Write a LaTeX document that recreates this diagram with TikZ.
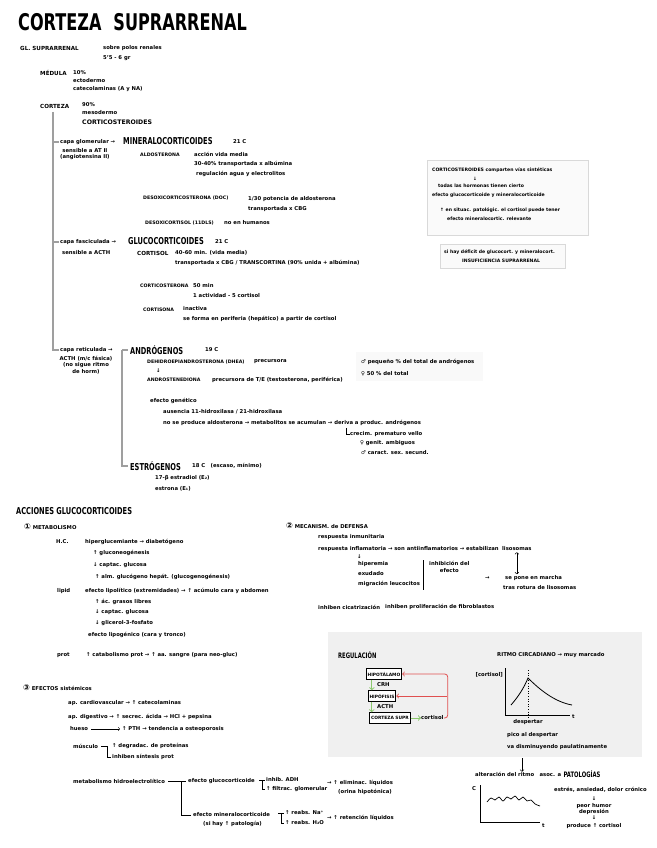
\documentclass[tikz,border=0pt]{standalone}
\usepackage{fontspec}
\setmainfont{DejaVu Sans}
\newfontfamily\handcaps[FakeStretch=0.7]{DejaVu Sans}
\usetikzlibrary{positioning}
\definecolor{hpagreen}{HTML}{8CC86E}
\definecolor{fbred}{HTML}{E05050}
\newcommand{\circnum}[1]{{\fontsize{8}{8}\selectfont #1}}

\begin{document}
\begin{tikzpicture}[x=1pt, y=-1pt,
        txt/.style={anchor=west, inner sep=0pt, align=left, font=\bfseries\fontsize{5.3}{6.3}\selectfont},
        lab/.style={txt, font=\bfseries\fontsize{4.7}{5.6}\selectfont},
        boxtxt/.style={txt, font=\bfseries\fontsize{4.6}{5.5}\selectfont},
        bold/.style={txt, font=\bfseries\fontsize{5.6}{6.4}\selectfont},
        head/.style={anchor=west, inner sep=0pt, font=\handcaps\bfseries\fontsize{9.5}{10}\selectfont},
        spine/.style={line width=1.1pt, gray!75},
        bracket/.style={line width=0.6pt},
        notebox/.style={draw=gray!30, fill=gray!4, line width=0.5pt},
        regbox/.style={draw, line width=1pt, fill=white, inner sep=1.3pt, minimum height=10.5pt, font=\bfseries\fontsize{4.4}{5}\selectfont},
        hpa/.style={->, hpagreen, line width=1pt},
        fb/.style={->, fbred, line width=0.8pt, rounded corners=3pt}
      ]
      \useasboundingbox (0,0) rectangle (656,848);

      % Title
      \node[head, font=\handcaps\bfseries\fontsize{23}{24}\selectfont] (title) at (18,22) {CORTEZA\hspace{12pt}SUPRARRENAL};

      % Gland, medulla and cortex
      \node[bold] (gland) at (20,48) {GL. SUPRARRENAL};
      \node[txt] (glandA) at (103,48) {sobre polos renales};
      \node[txt] (glandB) at (103,58) {5'5 - 6 gr};
      \node[bold] (medula) at (40,73) {MÉDULA};
      \node[txt] (medA) at (73,73) {10\%};
      \node[txt] (medB) at (73,81) {ectodermo};
      \node[txt] (medC) at (73,89) {catecolaminas (A y NA)};
      \node[bold] (corteza) at (40,106) {CORTEZA};
      \node[txt] (cortA) at (82,105) {90\%};
      \node[txt] (cortB) at (82,113) {mesodermo};
      \node[bold, font=\bfseries\fontsize{6.2}{7}\selectfont] (cortC) at (82,122) {CORTICOSTEROIDES};

      % Capa glomerular
      \node[txt] (glom) at (60,142) {capa glomerular →};
      \node[head] (mineral) at (123,141) {MINERALOCORTICOIDES};
      \node[txt] (mineralC) at (233,142) {21 C};
      \node[txt, align=center, anchor=north west] (glomSens) at (60,148) {sensible a AT II\\(angiotensina II)};
      \node[lab] (aldo) at (140,155) {ALDOSTERONA};
      \node[txt] (aldoA) at (194,154) {acción vida media};
      \node[txt] (aldoB) at (194,164) {30-40\% transportada x albúmina};
      \node[txt] (aldoC) at (196,174) {regulación agua y electrolitos};
      \node[lab] (doc) at (143,198) {DESOXICORTICOSTERONA (DOC)};
      \node[txt] (docA) at (248,199) {1/30 potencia de aldosterona};
      \node[txt] (docB) at (248,209) {transportada x CBG};
      \node[lab] (desox) at (145,223) {DESOXICORTISOL (11DLS)};
      \node[txt] (desoxA) at (224,223) {no en humanos};

      % Notes on the right
      \draw[notebox] (427,160) rectangle (588,235);
      \node[boxtxt] (synA) at (432,170) {CORTICOSTEROIDES comparten vías sintéticas};
      \node[boxtxt] (synB) at (473,179) {↓};
      \node[boxtxt] (synC) at (438,186) {todas las hormonas tienen cierto};
      \node[boxtxt] (synD) at (432,195) {efecto glucocorticoide y mineralocorticoide};
      \node[boxtxt] (synE) at (440,210) {↑ en situac. patológic. el cortisol puede tener};
      \node[boxtxt] (synF) at (447,219) {efecto mineralocortic. relevante};
      \draw[notebox] (440,244) rectangle (565,268);
      \node[boxtxt] (defic) at (444,252) {si hay déficit de glucocort. y mineralocort.};
      \node[boxtxt] (insuf) at (462,261) {INSUFICIENCIA SUPRARRENAL};

      % Capa fasciculada
      \node[txt] (fasc) at (60,242) {capa fasciculada →};
      \node[head] (gluco) at (128,241) {GLUCOCORTICOIDES};
      \node[txt] (glucoC) at (215,242) {21 C};
      \node[txt] (fascSens) at (62,253) {sensible a ACTH};
      \node[bold] (cortisol) at (137,253) {CORTISOL};
      \node[txt] (cortisolA) at (175,253) {40-60 min. (vida media)};
      \node[txt] (cortisolB) at (175,263) {transportada x CBG / TRANSCORTINA (90\% unida + albúmina)};
      \node[lab] (corticost) at (140,286) {CORTICOSTERONA};
      \node[txt] (corticostA) at (193,286) {50 min};
      \node[txt] (corticostB) at (193,296) {1 actividad - 5 cortisol};
      \node[lab] (cortisona) at (143,310) {CORTISONA};
      \node[txt] (cortisonaA) at (183,309) {inactiva};
      \node[txt] (cortisonaB) at (183,319) {se forma en periferia (hepático) a partir de cortisol};

      % Capa reticulada
      \node[txt] (retic) at (60,350) {capa reticulada →};
      \node[head] (andro) at (130,350) {ANDRÓGENOS};
      \node[txt] (androC) at (205,350) {19 C};
      \node[txt, align=center, anchor=north] (reticSens) at (86,356) {ACTH (m/c fásica)\\(no sigue ritmo\\de horm)};
      \node[lab] (dhea) at (147,362) {DEHIDROEPIANDROSTERONA (DHEA)};
      \node[txt] (dheaA) at (254,362) {precursora};
      \node[txt] (dheaArrow) at (156,371) {↓};
      \node[lab] (andros) at (147,380) {ANDROSTENEDIONA};
      \node[txt] (androsA) at (212,380) {precursora de T/E (testosterona, periférica)};
      \fill[gray!5] (356,352) rectangle (483,381);
      \node[txt] (sexA) at (361,362) {♂ pequeño \% del total de andrógenos};
      \node[txt] (sexB) at (361,374) {♀ 50 \% del total};
      \node[txt] (genet) at (150,401) {efecto genético};
      \node[txt] (genetA) at (163,412) {ausencia 11-hidroxilasa / 21-hidroxilasa};
      \node[txt] (genetB) at (163,423) {no se produce aldosterona → metabolitos se acumulan → deriva a produc. andrógenos};
      \node[txt] (virA) at (350,434) {crecim. prematuro vello};
      \node[txt] (virB) at (360,443) {♀ genit. ambiguos};
      \node[txt] (virC) at (361,453) {♂ caract. sex. secund.};
      \coordinate (virTop) at (346,428);
      \draw[bracket] (virTop) |- (virA.west);
      \node[head] (estro) at (130,466) {ESTRÓGENOS};
      \node[txt] (estroC) at (192,466) {18 C\quad (escaso, mínimo)};
      \node[txt] (estroA) at (155,478) {17-β estradiol (E₂)};
      \node[txt] (estroB) at (155,489) {estrona (E₁)};

      % Brackets of the cortex
      \coordinate (spineTop) at (53,112);
      \draw[spine] (spineTop) |- ([xshift=-1pt]retic.west);
      \draw[spine] (spineTop |- glom.west) -- ([xshift=-1pt]glom.west);
      \draw[spine] (spineTop |- fasc.west) -- ([xshift=-1pt]fasc.west);
      \coordinate (androTop) at (122,350);
      \draw[spine] (androTop) -- ([xshift=-2pt]andro.west);
      \draw[spine] (androTop) |- ([xshift=-2pt]estro.west);

      % Acciones: metabolismo
      \node[head] (acciones) at (16,511) {ACCIONES GLUCOCORTICOIDES};
      \node[txt] (metab) at (24,527) {\circnum{①} METABOLISMO};
      \node[txt] (hc) at (56,542) {H.C.};
      \node[txt] (hcA) at (85,542) {hiperglucemiante → diabetógeno};
      \node[txt] (hcB) at (93,553) {↑ gluconeogénesis};
      \node[txt] (hcC) at (93,565) {↓ captac. glucosa};
      \node[txt] (hcD) at (95,577) {↑ alm. glucógeno hepát. (glucogenogénesis)};
      \node[txt] (lip) at (57,591) {lipid};
      \node[txt] (lipA) at (85,591) {efecto lipolítico (extremidades) → ↑ acúmulo cara y abdomen};
      \node[txt] (lipB) at (95,602) {↑ ác. grasos libres};
      \node[txt] (lipC) at (95,612) {↓ captac. glucosa};
      \node[txt] (lipD) at (95,623) {↓ glicerol-3-fosfato};
      \node[txt] (lipE) at (88,635) {efecto lipogénico (cara y tronco)};
      \node[txt] (prot) at (57,655) {prot};
      \node[txt] (protA) at (86,655) {↑ catabolismo prot → ↑ aa. sangre (para neo-gluc)};

      % Acciones: defensa
      \node[txt] (def) at (286,526) {\circnum{②} MECANISM. de DEFENSA};
      \node[txt] (defA) at (318,537) {respuesta inmunitaria};
      \node[txt] (defB) at (318,549) {respuesta inflamatoria → son antiinflamatorios → estabilizan};
      \node[txt, right=3pt of defB] (liso) {lisosomas};
      \node[txt] (defArrow) at (357,557) {↓};
      \node[txt] (hiper) at (358,564) {hiperemia};
      \node[txt] (exud) at (358,574) {exudado};
      \node[txt] (migr) at (358,584) {migración leucocitos};
      \coordinate (inhTop) at (423,560);
      \coordinate (inhBot) at (423,590);
      \draw[bracket] (inhTop) -- (inhBot);
      \node[txt, align=center] (inh) at (429,567) {inhibición del\\efecto};
      \node[txt] (marchaArrow) at (485,578) {→};
      \node[txt] (marcha) at (505,578) {se pone en marcha};
      \node[txt] (rotura) at (503,588) {tras rotura de lisosomas};
      \draw[<->, line width=0.6pt] ([yshift=-1pt]liso.south) -- ([yshift=1pt]liso.south |- marcha.north);
      \node[txt] (cicat) at (318,607) {inhiben cicatrización};
      \node[txt] (fibro) at (385,607) {inhiben proliferación de fibroblastos};

      % Acciones: efectos sistemicos
      \node[txt] (efect) at (23,688) {\circnum{③} EFECTOS sistémicos};
      \node[txt] (cardio) at (68,703) {ap. cardiovascular → ↑ catecolaminas};
      \node[txt] (dig) at (68,717) {ap. digestivo → ↑ secrec. ácida → HCl + pepsina};
      \node[txt] (hueso) at (70,729) {hueso};
      \node[txt] (huesoA) at (122,729) {↑ PTH → tendencia a osteoporosis};
      \draw[->, line width=0.5pt] ([xshift=3pt]hueso.east) -- ([xshift=-2pt]huesoA.west);
      \node[txt] (musc) at (73,746) {músculo};
      \node[txt] (muscA) at (112,746) {↑ degradac. de proteínas};
      \node[txt] (muscB) at (112,757) {inhiben síntesis prot};
      \coordinate (muscBr) at (107,746);
      \draw[bracket] ([xshift=3pt]musc.east) -- (muscBr);
      \draw[bracket] (muscBr) |- ([xshift=-1pt]muscB.west);
      \node[txt] (hidro) at (73,781) {metabolismo hidroelectrolítico};
      \node[txt] (hidroG) at (188,781) {efecto glucocorticoide};
      \node[txt] (hidroM) at (193,815) {efecto mineralocorticoide};
      \node[txt] (hidroMb) at (203,824) {(si hay ↑ patología)};
      \coordinate (hidroBr) at (181,781);
      \draw[bracket] ([xshift=3pt]hidro.east) -- ([xshift=-2pt]hidroG.west);
      \draw[bracket] (hidroBr) |- ([xshift=-2pt]hidroM.west);
      \node[txt] (adh) at (266,780) {inhib. ADH};
      \node[txt] (filt) at (266,789) {↑ filtrac. glomerular};
      \coordinate (adhBr) at (262,780);
      \draw[bracket] ([xshift=-3pt]adhBr) -- ([xshift=-1pt]adh.west);
      \draw[bracket] (adhBr) |- ([xshift=-1pt]filt.west);
      \node[txt] (elim) at (327,783) {→ ↑ eliminac. líquidos};
      \node[txt] (elimB) at (338,792) {(orina hipotónica)};
      \node[txt] (na) at (285,813) {↑ reabs. Na⁺};
      \node[txt] (agua) at (285,823) {↑ reabs. H₂O};
      \coordinate (naBr) at (281,813);
      \draw[bracket] ([xshift=-3pt]naBr) -- ([xshift=-1pt]na.west);
      \draw[bracket] (naBr) |- ([xshift=-1pt]agua.west);
      \node[txt] (reten) at (327,818) {→ ↑ retención líquidos};

      % Regulacion panel
      \fill[gray!12] (328,632) rectangle (642,757);
      \node[txt, font=\handcaps\bfseries\fontsize{7.5}{8}\selectfont] (reg) at (338,655) {REGULACIÓN};
      \node[regbox] (hipot) at (384,674) {HIPOTÁLAMO};
      \node[regbox] (hipof) at (382,696) {HIPÓFISIS};
      \node[regbox] (supr) at (390,718) {CORTEZA SUPR};
      \node[txt] (crh) at (377,685) {CRH};
      \node[txt] (acth) at (377,707) {ACTH};
      \node[txt] (cortReg) at (421,718) {cortisol};
      \draw[hpa] ([xshift=6pt]hipot.south west) -- ([xshift=6pt]hipot.south west |- hipof.north);
      \draw[hpa] ([xshift=4pt]hipof.south west) -- ([xshift=4pt]hipof.south west |- supr.north);
      \draw[hpa] (supr.east) -- (cortReg.west);
      \draw[fb] (cortReg.east) -- ++(4,0) |- (hipot.east);
      \draw[fb] ([xshift=3pt]cortReg.east |- hipof.east) -- (hipof.east);

      % Ritmo circadiano
      \node[txt] (ritmo) at (497,655) {RITMO CIRCADIANO → muy marcado};
      \coordinate (gOrig) at (505,715);
      \draw[line width=0.6pt] (505,668) -- (gOrig) -- (570,715);
      \node[txt, anchor=east] (gY) at (503,675) {[cortisol]};
      \node[txt] (gT) at (572,717) {t};
      \node[txt, anchor=north] (desp) at (528,719) {despertar};
      \draw[dotted, line width=0.6pt] (528,670) -- (desp.north);
      \draw[line width=0.8pt] (511,705) .. controls (518,697) and (524,688) .. (528,678)
                                .. controls (540,690) and (555,702) .. (572,705);
      \node[txt] (pico) at (507,735) {pico al despertar};
      \node[txt] (pico2) at (507,747) {va disminuyendo paulatinamente};

      % Patologias
      \node[txt] (alt) at (475,774) {alteración del ritmo\quad asoc. a};
      \node[head, font=\handcaps\bfseries\fontsize{7.5}{8}\selectfont, right=2pt of alt] (pato) {PATOLOGÍAS};
      \coordinate (altTop) at (522,758);
      \draw[->, line width=0.6pt] (altTop) -- (altTop |- alt.north);
      \draw[line width=0.6pt] (480,785) -- (480,822) -- (540,822);
      \node[txt] (pC) at (472,789) {C};
      \node[txt] (pT) at (542,826) {t};
      \draw[line width=0.7pt] plot[smooth] coordinates {(487,802) (491,798) (495,800) (499,797) (503,801) (507,797) (511,799) (515,796) (519,800) (523,797) (527,801) (531,800) (535,804) (540,806)};
      \node[txt] (estres) at (554,790) {estrés, ansiedad, dolor crónico};
      \node[txt, anchor=center] (pArrowA) at (594,799) {↓};
      \node[txt, anchor=center, align=center] (humor) at (594,809) {peor humor\\depresión};
      \node[txt, anchor=center] (pArrowB) at (594,818) {↓};
      \node[txt, anchor=center] (produce) at (594,826) {produce ↑ cortisol};

    \end{tikzpicture}
\end{document}
